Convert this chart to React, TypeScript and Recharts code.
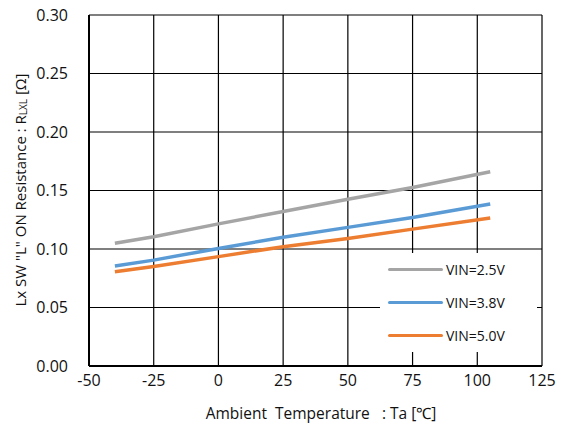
import React from 'react';
import { LineChart, Line, XAxis, YAxis, CartesianGrid, Legend } from 'recharts';

const temps = [-40, -25, 0, 25, 50, 75, 105];
const vin25 = [0.105, 0.1105, 0.1215, 0.132, 0.1425, 0.1525, 0.166];
const vin38 = [0.0855, 0.0905, 0.1005, 0.11, 0.1185, 0.127, 0.1385];
const vin50 = [0.0805, 0.085, 0.0935, 0.102, 0.109, 0.117, 0.1265];
const xTicks = [-50, -25, 0, 25, 50, 75, 100, 125];
const yTicks = [0, 0.05, 0.1, 0.15, 0.2, 0.25, 0.3];

const series = [
  { key: 'a', name: 'VIN=2.5V', color: '#A5A5A5' },
  { key: 'b', name: 'VIN=3.8V', color: '#5B9BD5' },
  { key: 'c', name: 'VIN=5.0V', color: '#ED7D31' },
];

const data = temps.map((t, i) => ({ t, a: vin25[i], b: vin38[i], c: vin50[i] }));

const FONT = '"Open Sans", sans-serif';

const YLabel = () => (
  <text
    x={0}
    y={0}
    transform="translate(20,190) rotate(-90)"
    textAnchor="middle"
    dominantBaseline="central"
    fontFamily={FONT}
    fontSize={15}
    fill="#111"
  >
    <tspan>Lx SW "L" ON Resistance : R</tspan>
    <tspan dy={3} fontSize={10}>LXL</tspan>
    <tspan dy={-3}> [Ω]</tspan>
  </text>
);

const XLabel = () => (
  <text
    x={321}
    y={419}
    textAnchor="middle"
    fontFamily={FONT}
    fontSize={15.5}
    fill="#111"
    style={{ whiteSpace: 'pre' }}
  >
    {'Ambient  Temperature   : Ta [℃]'}
  </text>
);

const renderLegend = () => (
  <div style={{ background: '#fff', width: 157, height: 99, fontFamily: FONT, fontSize: 14, color: '#111' }}>
    {series.map((s) => (
      <div key={s.key} style={{ display: 'flex', alignItems: 'center', height: 33 }}>
        <span
          style={{
            display: 'inline-block',
            width: 55,
            height: 3.5,
            background: s.color,
            borderRadius: 2,
            marginLeft: 8,
          }}
        />
        <span style={{ marginLeft: 3 }}>{s.name}</span>
      </div>
    ))}
  </div>
);

export default function App() {
  return (
    <div style={{ position: 'absolute', left: 0, top: 0, width: 564, height: 432, background: '#fff' }}>
      <LineChart width={564} height={432} data={data} margin={{ top: 15, right: 22, bottom: 0, left: 0 }}>
        <CartesianGrid stroke="#000" strokeWidth={1.2} />
        <XAxis
          dataKey="t"
          type="number"
          domain={[-50, 125]}
          ticks={xTicks}
          interval={0}
          height={66}
          tickSize={0}
          tickMargin={9}
          axisLine={{ stroke: '#000', strokeWidth: 2 }}
          tick={{ fontFamily: FONT, fontSize: 16, fill: '#111' }}
          label={<XLabel />}
        />
        <YAxis
          type="number"
          domain={[0, 0.3]}
          ticks={yTicks}
          interval={0}
          width={89}
          tickSize={0}
          tickMargin={21}
          axisLine={{ stroke: '#000', strokeWidth: 2 }}
          tickFormatter={(v: number) => v.toFixed(2)}
          tick={{ fontFamily: FONT, fontSize: 16, fill: '#111' }}
          label={<YLabel />}
        />
        <Legend
          layout="vertical"
          align="center"
          verticalAlign="middle"
          content={renderLegend}
          wrapperStyle={{ left: 380, top: 253, width: 157, height: 99 }}
        />
        {series.map((s) => (
          <Line
            key={s.key}
            dataKey={s.key}
            name={s.name}
            stroke={s.color}
            strokeWidth={3.5}
            dot={false}
            type="linear"
            isAnimationActive={false}
          />
        ))}
      </LineChart>
    </div>
  );
}
